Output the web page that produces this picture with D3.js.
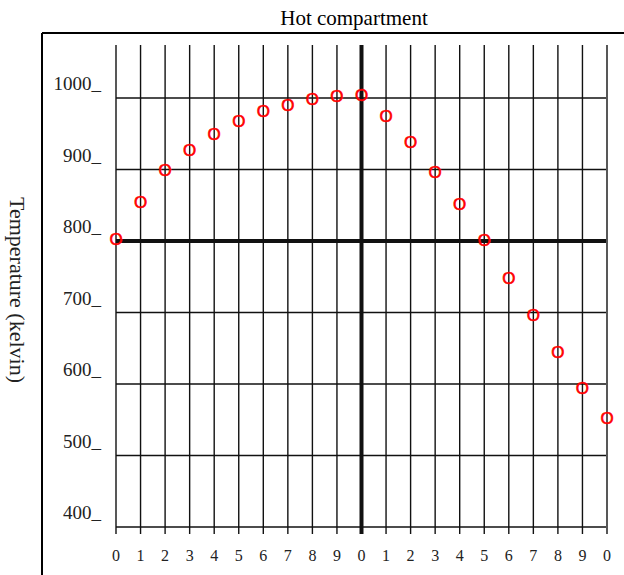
<!DOCTYPE html>
<html>
<head>
<meta charset="utf-8">
<script src="https://cdn.jsdelivr.net/npm/d3@7"></script>
<style>
html,body{margin:0;padding:0;background:#fff;}
svg{display:block;}
</style>
</head>
<body>
<script>
const title = "Hot compartment";
const yTitle = "Temperature (kelvin)";
const positions = d3.range(0, 21);
const xTickLabels = ["0","1","2","3","4","5","6","7","8","9","0","1","2","3","4","5","6","7","8","9","0"];
const yTicks = [400, 500, 600, 700, 800, 900, 1000];
const temperatures = [803, 855, 899, 927, 950, 968, 982, 990, 999, 1003, 1005, 975, 938, 897, 852, 801, 749, 697, 645, 594, 552];

const W = 624, H = 575;
const svg = d3.select("body").append("svg").attr("width", W).attr("height", H);

const x = d3.scaleLinear().domain([0, 20]).range([116, 607]);
const y = d3.scaleLinear().domain([400, 1000]).range([527, 98]);

const serif = "'Liberation Serif', 'Times New Roman', serif";

// frame
svg.append("line").attr("x1", 42).attr("x2", W).attr("y1", 33).attr("y2", 33)
  .attr("stroke", "#000").attr("stroke-width", 2);
svg.append("line").attr("x1", 42).attr("x2", 42).attr("y1", 33).attr("y2", H)
  .attr("stroke", "#000").attr("stroke-width", 2);

// title
svg.append("text").attr("x", 354).attr("y", 25).attr("text-anchor", "middle")
  .attr("font-family", serif).attr("font-size", 21).text(title);

// y title
svg.append("text").attr("transform", "translate(10,290) rotate(90)")
  .attr("text-anchor", "middle").attr("font-family", serif).attr("font-size", 22)
  .attr("fill", "#222").text(yTitle);

// vertical grid lines
svg.append("g").selectAll("line").data(positions).join("line")
  .attr("x1", d => x(d)).attr("x2", d => x(d))
  .attr("y1", 45).attr("y2", 534)
  .attr("stroke", "#111")
  .attr("stroke-width", d => d === 10 ? 4 : 1.4);

// horizontal grid lines
svg.append("g").selectAll("line").data(yTicks).join("line")
  .attr("x1", x(0)).attr("x2", x(20) - 1)
  .attr("y1", d => y(d)).attr("y2", d => y(d))
  .attr("stroke", "#111")
  .attr("stroke-width", d => d === 800 ? 4 : 1.4);

// y labels
svg.append("g").selectAll("text").data(yTicks).join("text")
  .attr("x", 101).attr("y", d => y(d) - 8)
  .attr("text-anchor", "end").attr("font-family", serif).attr("font-size", 19)
  .attr("fill", "#222")
  .text(d => d + "_");

// x labels
svg.append("g").selectAll("text").data(positions).join("text")
  .attr("x", d => x(d)).attr("y", 561)
  .attr("text-anchor", "middle").attr("font-family", serif).attr("font-size", 16)
  .attr("fill", "#222")
  .text(d => xTickLabels[d]);

// points as red "O"
svg.append("g").selectAll("text").data(temperatures).join("text")
  .attr("x", (d, i) => x(positions[i])).attr("y", d => y(d))
  .attr("dy", "0.358em")
  .attr("text-anchor", "middle")
  .attr("font-family", "'Liberation Sans', Arial, sans-serif")
  .attr("font-size", 17)
  .attr("stroke", "#f00").attr("stroke-width", 0.6)
  .attr("fill", "#f00")
  .text("O");
</script>
</body>
</html>
